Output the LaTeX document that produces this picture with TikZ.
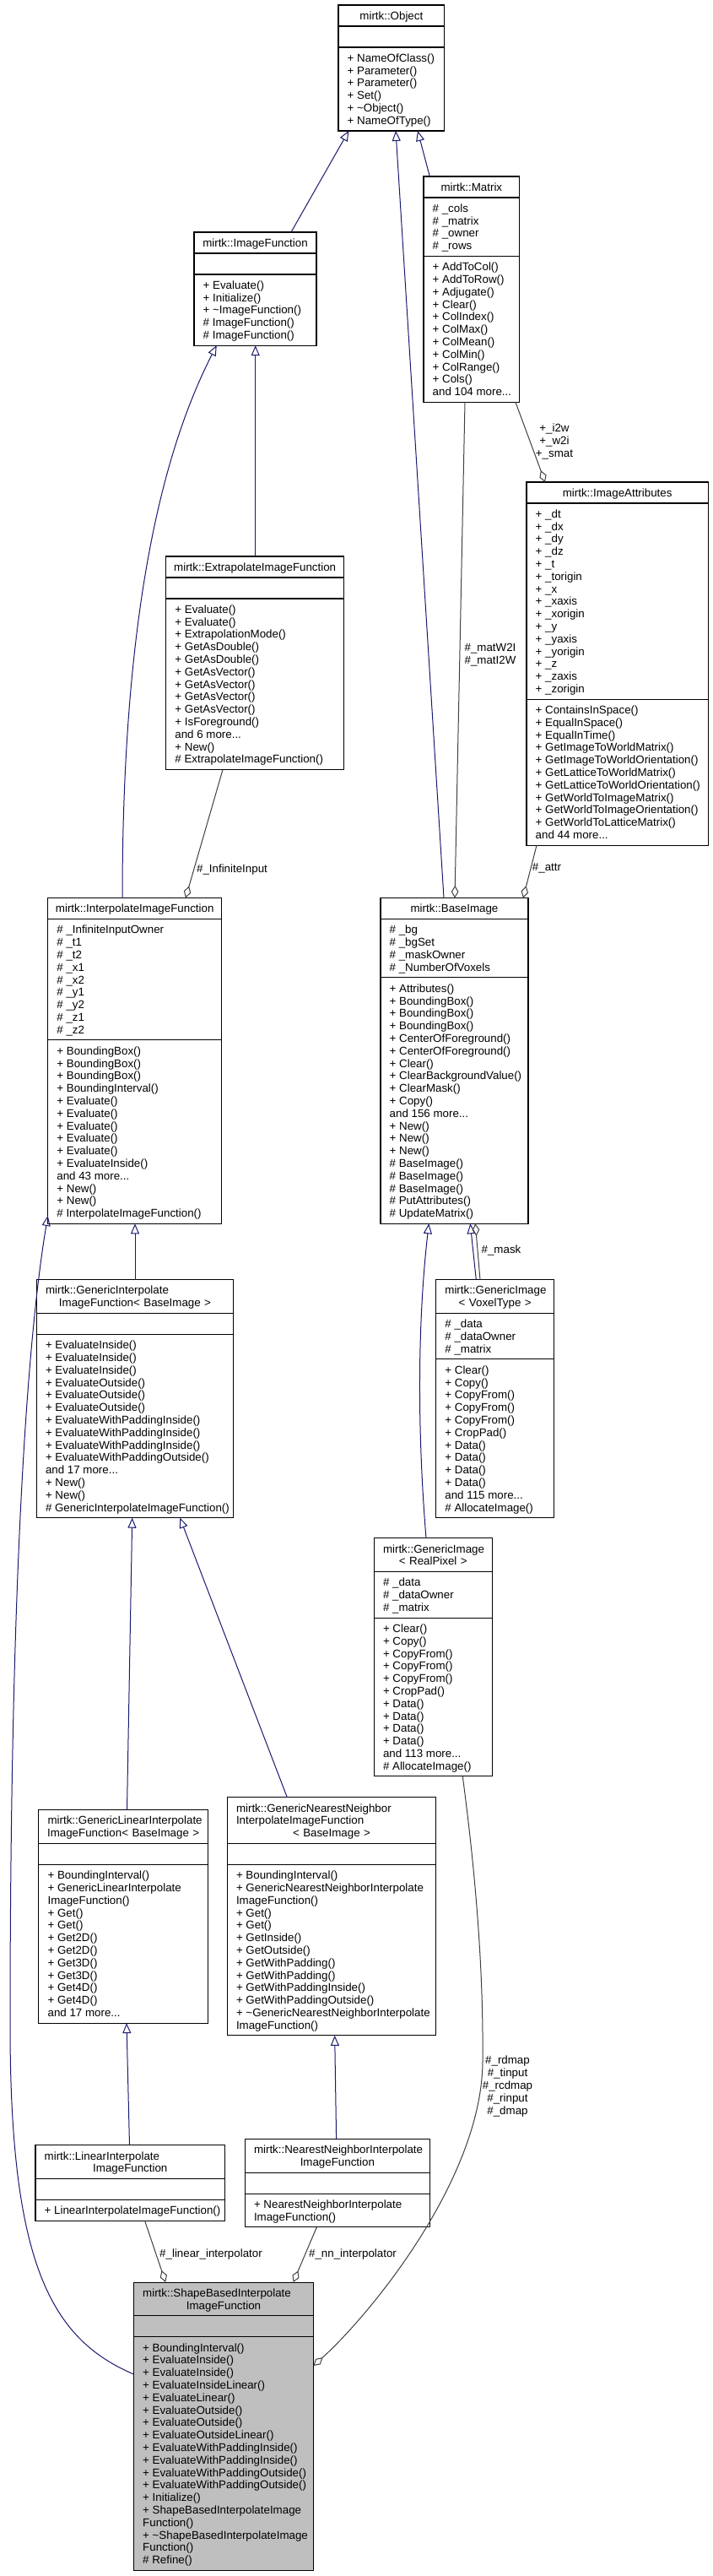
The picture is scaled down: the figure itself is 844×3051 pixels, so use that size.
\documentclass[tikz,border=0pt]{standalone}
\usepackage{fontspec}
\setmainfont{Liberation Sans}
\usetikzlibrary{arrows.meta,calc}
\setlength\parindent{0pt}
\definecolor{midblue}{RGB}{25,25,112}
\definecolor{aggcol}{RGB}{64,64,64}
\definecolor{selgray}{RGB}{191,191,191}
\newcommand\clinen[1]{\makebox[\hsize][c]{#1}}
% #1 name, #2 left, #3 top, #4 width, #5 title lines, #6 attr lines (0 = empty), #7 method lines, #8 fill
\newcommand\umlbox[8]{%
  \pgfmathsetmacro\hA{14.8*#5+10.2}%
  \pgfmathsetmacro\hB{ifthenelse(#6>0,14.8*#6+10.2,25)}%
  \pgfmathsetmacro\hC{14.8*#7+10.2}%
  \pgfmathsetmacro\yA{#3+\hA}%
  \pgfmathsetmacro\yB{\yA+\hB}%
  \pgfmathsetmacro\yC{\yB+\hC}%
  \pgfmathsetmacro\bw{#4*0.75}%
  \pgfmathsetmacro\bh{(\yC-#3)*0.75}%
  \pgfmathsetmacro\tw{(#4-21.4)*0.75}%
  \node[classbox, fill=#8, minimum width=\bw pt, minimum height=\bh pt, anchor=north west] (#1) at (#2,#3) {};
  \draw[sepline] (#2,\yA) -- ++(#4,0);
  \draw[sepline] (#2,\yB) -- ++(#4,0);
  \node[txt, text width=\tw pt, anchor=north west] (#1-t) at ({#2+10.7},{#3+6.94}) {\strut\bT\par};
  \ifnum#6>0 \node[txt, align=left, anchor=north west] (#1-a) at ({#2+10.7},{\yA+6.94}) {\strut\bA};\fi
  \node[txt, align=left, anchor=north west] (#1-m) at ({#2+10.7},{\yB+6.94}) {\strut\bM};
}
\begin{document}
\begin{tikzpicture}[x=0.75pt,y=-0.75pt,
  classbox/.style={draw=black, line width=0.8pt, inner sep=0pt, outer sep=0pt, rectangle},
  sepline/.style={draw=black, line width=0.8pt},
  txt/.style={inner sep=0pt, outer sep=0pt, font=\fontsize{10}{11.1}\selectfont},
  lbl/.style={txt, align=center},
  inh/.style={draw=midblue, line width=0.75pt, -{Triangle[open, length=9pt, width=7.5pt]}},
  agg/.style={draw=aggcol, line width=0.75pt, -{Diamond[open, length=11pt, width=6.5pt]}}]
\fill[white] (0,0) rectangle (844,3051);
\useasboundingbox (0,0) rectangle (844,3051);

% ---------- boxes ----------
\def\bT{\clinen{mirtk::Object}}
\def\bM{+ NameOfClass()\\+ Parameter()\\+ Parameter()\\+ Set()\\+ \textasciitilde Object()\\+ NameOfType()}
\umlbox{obj}{401}{6}{125.7}{1}{0}{6}{white}

\def\bT{\clinen{mirtk::ImageFunction}}
\def\bM{+ Evaluate()\\+ Initialize()\\+ \textasciitilde ImageFunction()\\\# ImageFunction()\\\# ImageFunction()}
\umlbox{imgfn}{230}{275}{145}{1}{0}{5}{white}

\def\bT{\clinen{mirtk::Matrix}}
\def\bA{\# \_cols\\\# \_matrix\\\# \_owner\\\# \_rows}
\def\bM{+ AddToCol()\\+ AddToRow()\\+ Adjugate()\\+ Clear()\\+ ColIndex()\\+ ColMax()\\+ ColMean()\\+ ColMin()\\+ ColRange()\\+ Cols()\\and 104 more...}
\umlbox{matrix}{502}{209}{113.7}{1}{4}{11}{white}

\def\bT{\clinen{mirtk::ExtrapolateImageFunction}}
\def\bM{+ Evaluate()\\+ Evaluate()\\+ ExtrapolationMode()\\+ GetAsDouble()\\+ GetAsDouble()\\+ GetAsVector()\\+ GetAsVector()\\+ GetAsVector()\\+ GetAsVector()\\+ IsForeground()\\and 6 more...\\+ New()\\\# ExtrapolateImageFunction()}
\umlbox{extrap}{196.7}{659}{211}{1}{0}{13}{white}

\def\bT{\clinen{mirtk::ImageAttributes}}
\def\bA{+ \_dt\\+ \_dx\\+ \_dy\\+ \_dz\\+ \_t\\+ \_torigin\\+ \_x\\+ \_xaxis\\+ \_xorigin\\+ \_y\\+ \_yaxis\\+ \_yorigin\\+ \_z\\+ \_zaxis\\+ \_zorigin}
\def\bM{+ ContainsInSpace()\\+ EqualInSpace()\\+ EqualInTime()\\+ GetImageToWorldMatrix()\\+ GetImageToWorldOrientation()\\+ GetLatticeToWorldMatrix()\\+ GetLatticeToWorldOrientation()\\+ GetWorldToImageMatrix()\\+ GetWorldToImageOrientation()\\+ GetWorldToLatticeMatrix()\\and 44 more...}
\umlbox{imgattr}{624}{571}{215.3}{1}{15}{11}{white}

\def\bT{\clinen{mirtk::InterpolateImageFunction}}
\def\bA{\# \_InfiniteInputOwner\\\# \_t1\\\# \_t2\\\# \_x1\\\# \_x2\\\# \_y1\\\# \_y2\\\# \_z1\\\# \_z2}
\def\bM{+ BoundingBox()\\+ BoundingBox()\\+ BoundingBox()\\+ BoundingInterval()\\+ Evaluate()\\+ Evaluate()\\+ Evaluate()\\+ Evaluate()\\+ Evaluate()\\+ EvaluateInside()\\and 43 more...\\+ New()\\+ New()\\\# InterpolateImageFunction()}
\umlbox{interp}{56.7}{1063.5}{206}{1}{9}{14}{white}

\def\bT{\clinen{mirtk::BaseImage}}
\def\bA{\# \_bg\\\# \_bgSet\\\# \_maskOwner\\\# \_NumberOfVoxels}
\def\bM{+ Attributes()\\+ BoundingBox()\\+ BoundingBox()\\+ BoundingBox()\\+ CenterOfForeground()\\+ CenterOfForeground()\\+ Clear()\\+ ClearBackgroundValue()\\+ ClearMask()\\+ Copy()\\and 156 more...\\+ New()\\+ New()\\+ New()\\\# BaseImage()\\\# BaseImage()\\\# BaseImage()\\\# PutAttributes()\\\# UpdateMatrix()}
\umlbox{baseimg}{451}{1063.5}{175}{1}{4}{19}{white}

\def\bT{mirtk::GenericInterpolate\\\clinen{ImageFunction< BaseImage >}}
\def\bM{+ EvaluateInside()\\+ EvaluateInside()\\+ EvaluateInside()\\+ EvaluateOutside()\\+ EvaluateOutside()\\+ EvaluateOutside()\\+ EvaluateWithPaddingInside()\\+ EvaluateWithPaddingInside()\\+ EvaluateWithPaddingInside()\\+ EvaluateWithPaddingOutside()\\and 17 more...\\+ New()\\+ New()\\\# GenericInterpolateImageFunction()}
\umlbox{geninterp}{43.3}{1515.5}{233.4}{2}{0}{14}{white}

\def\bT{mirtk::GenericImage\\\clinen{< VoxelType >}}
\def\bA{\# \_data\\\# \_dataOwner\\\# \_matrix}
\def\bM{+ Clear()\\+ Copy()\\+ CopyFrom()\\+ CopyFrom()\\+ CopyFrom()\\+ CropPad()\\+ Data()\\+ Data()\\+ Data()\\+ Data()\\and 115 more...\\\# AllocateImage()}
\umlbox{genvox}{516.7}{1515.5}{140}{2}{3}{12}{white}

\def\bT{mirtk::GenericImage\\\clinen{< RealPixel >}}
\def\bA{\# \_data\\\# \_dataOwner\\\# \_matrix}
\def\bM{+ Clear()\\+ Copy()\\+ CopyFrom()\\+ CopyFrom()\\+ CopyFrom()\\+ CropPad()\\+ Data()\\+ Data()\\+ Data()\\+ Data()\\and 113 more...\\\# AllocateImage()}
\umlbox{genreal}{443.3}{1821.7}{140}{2}{3}{12}{white}

\def\bT{mirtk::GenericLinearInterpolate\\\clinen{ImageFunction< BaseImage >}}
\def\bM{+ BoundingInterval()\\+ GenericLinearInterpolate\\ImageFunction()\\+ Get()\\+ Get()\\+ Get2D()\\+ Get2D()\\+ Get3D()\\+ Get3D()\\+ Get4D()\\+ Get4D()\\and 17 more...}
\umlbox{genlin}{45.9}{2143.5}{200.5}{2}{0}{12}{white}

\def\bT{mirtk::GenericNearestNeighbor\\InterpolateImageFunction\\\clinen{< BaseImage >}}
\def\bM{+ BoundingInterval()\\+ GenericNearestNeighborInterpolate\\ImageFunction()\\+ Get()\\+ Get()\\+ GetInside()\\+ GetOutside()\\+ GetWithPadding()\\+ GetWithPadding()\\+ GetWithPaddingInside()\\+ GetWithPaddingOutside()\\+ \textasciitilde GenericNearestNeighborInterpolate\\ImageFunction()}
\umlbox{gennn}{269.3}{2128.7}{247.4}{3}{0}{13}{white}

\def\bT{mirtk::LinearInterpolate\\\clinen{ImageFunction}}
\def\bM{+ LinearInterpolateImageFunction()}
\umlbox{linint}{42}{2540.7}{224.6}{2}{0}{1}{white}

\def\bT{mirtk::NearestNeighborInterpolate\\\clinen{ImageFunction}}
\def\bM{+ NearestNeighborInterpolate\\ImageFunction()}
\umlbox{nnint}{290.3}{2533.3}{219.1}{2}{0}{2}{white}

\def\bT{mirtk::ShapeBasedInterpolate\\\clinen{ImageFunction}}
\def\bM{+ BoundingInterval()\\+ EvaluateInside()\\+ EvaluateInside()\\+ EvaluateInsideLinear()\\+ EvaluateLinear()\\+ EvaluateOutside()\\+ EvaluateOutside()\\+ EvaluateOutsideLinear()\\+ EvaluateWithPaddingInside()\\+ EvaluateWithPaddingInside()\\+ EvaluateWithPaddingOutside()\\+ EvaluateWithPaddingOutside()\\+ Initialize()\\+ ShapeBasedInterpolateImage\\Function()\\+ \textasciitilde ShapeBasedInterpolateImage\\Function()\\\# Refine()}
\umlbox{shape}{158.5}{2703}{213}{2}{0}{18}{selgray}

% ---------- inheritance ----------
\draw[inh] ($(imgfn.north west)+(115,0)$) -- ($(obj.south west)+(12.3,0)$);
\draw[inh] ($(baseimg.north west)+(75,0)$) -- ($(obj.south west)+(68,0)$);
\draw[inh] ($(matrix.north west)+(7.3,0)$) -- ($(obj.south west)+(94,0)$);
\draw[inh] ($(extrap.north west)+(106,0)$) -- ($(imgfn.south west)+(72.7,0)$);
\draw[inh] ($(interp.north west)+(88.3,0)$) .. controls +(0,-363.5) and +(-56.7,110.8) .. ($(imgfn.south west)+(26.7,0)$);
\draw[inh] ($(geninterp.north west)+(116.7,0)$) -- ($(interp.south west)+(103.3,0)$);
\draw[inh] ($(genvox.north west)+(47.6,0)$) -- ($(baseimg.south west)+(106.3,0)$);
\draw[inh] ($(genreal.north west)+(61.7,0)$) .. controls +(-10,-120) and +(-14,120) .. ($(baseimg.south west)+(57.3,0)$);
\draw[inh] ($(genlin.north west)+(104.6,0)$) -- ($(geninterp.south west)+(113.4,0)$);
\draw[inh] ($(gennn.north west)+(71,0)$) -- ($(geninterp.south west)+(170,0)$);
\draw[inh] ($(linint.north west)+(111.5,0)$) -- ($(genlin.south west)+(104.1,0)$);
\draw[inh] ($(nnint.north west)+(108.3,0)$) -- ($(gennn.south west)+(127.4,0)$);
\coordinate (cl) at (12,2400);
\draw[inh] ($(shape.north west)+(0,109)$) .. controls +(-98.5,-42) and +(0,280) .. (cl) .. controls +(0,-500) and +(-26.7,160) .. ($(interp.south west)+(0,-9.3)$);

% ---------- aggregation ----------
\draw[agg] ($(matrix.south west)+(49,0)$) -- ($(baseimg.north west)+(88,0)$);
\draw[agg] ($(matrix.south west)+(109,0)$) -- ($(imgattr.north west)+(22,0)$);
\draw[agg] ($(imgattr.south west)+(12,0)$) -- ($(baseimg.north west)+(169,0)$);
\draw[agg] ($(extrap.south west)+(67.3,0)$) -- ($(interp.north west)+(163.3,0)$);
\draw[agg] ($(genvox.north west)+(52.3,0)$) -- ($(baseimg.south west)+(112.3,0)$);
\draw[agg] ($(linint.south west)+(129.7,0)$) -- ($(shape.north west)+(37.7,0)$);
\draw[agg] ($(nnint.south west)+(85,0)$) -- ($(shape.north west)+(189.1,0)$);
\coordinate (cr) at (572,2442);
\draw[agg] ($(genreal.south west)+(105,0)$) .. controls +(16.7,126) and +(1,-102) .. (cr) .. controls +(-1,138) and +(68.5,-62) .. ($(shape.north east)+(0,99)$);

% ---------- labels ----------
\node[lbl] (l-mat) at (581,776) {\#\_matW2I\\\#\_matI2W};
\node[lbl] (l-smat) at (657,523) {+\_i2w\\+\_w2i\\+\_smat};
\node[lbl] (l-attr) at (648,1028) {\#\_attr};
\node[lbl] (l-inf) at (275,1030) {\#\_InfiniteInput};
\node[lbl] (l-mask) at (594,1481) {\#\_mask};
\node[lbl] (l-lin) at (250,2670) {\#\_linear\_interpolator};
\node[lbl] (l-nn) at (418,2670) {\#\_nn\_interpolator};
\node[lbl] (l-maps) at (601.5,2471) {\#\_rdmap\\\#\_tinput\\\#\_rcdmap\\\#\_rinput\\\#\_dmap};
\end{tikzpicture}
\end{document}
